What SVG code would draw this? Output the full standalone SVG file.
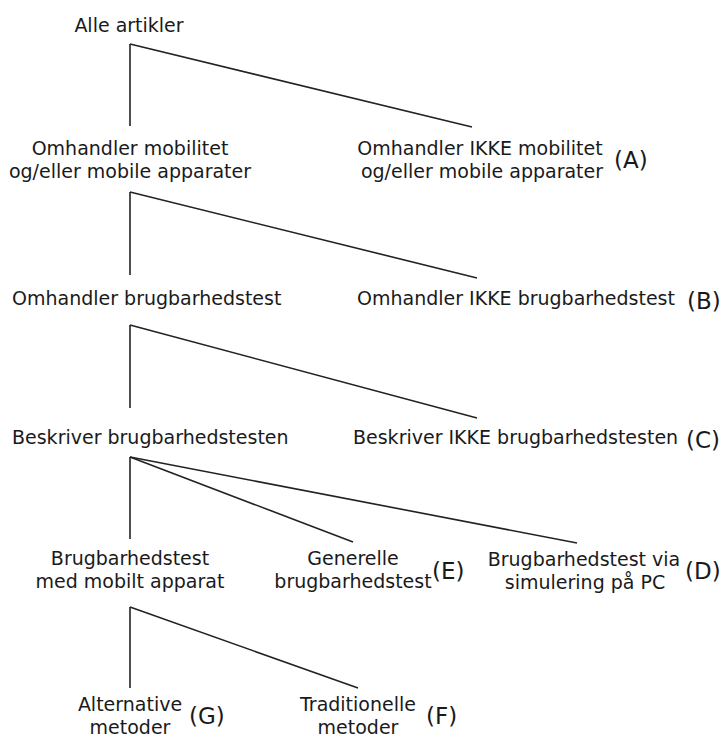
<svg xmlns="http://www.w3.org/2000/svg" width="726" height="738" viewBox="0 0 726 738">
<style>
text{font-family:"DejaVu Sans","Liberation Sans",sans-serif;font-size:19px;fill:#1a1a1a}
.c{text-anchor:middle}
.tag{font-size:23px}
#connectors line{stroke:#222;stroke-width:1.6;fill:none}
</style>
<rect width="726" height="738" fill="#fff"/>
<g id="connectors">
<line x1="130" y1="44" x2="130" y2="126"/>
<line x1="130" y1="44" x2="472" y2="127"/>
<line x1="130" y1="192" x2="130" y2="275"/>
<line x1="130" y1="192" x2="477" y2="278"/>
<line x1="130" y1="325" x2="130" y2="408"/>
<line x1="130" y1="325" x2="477" y2="418"/>
<line x1="130" y1="457" x2="130" y2="539"/>
<line x1="130" y1="457" x2="353" y2="542"/>
<line x1="130" y1="457" x2="577" y2="543"/>
<line x1="130" y1="607" x2="130" y2="688"/>
<line x1="130" y1="607" x2="358" y2="688"/>
</g>
<g id="n-root"><text class="c" x="129" y="32">Alle artikler</text></g>
<g id="n-mob"><text class="c" x="130" y="155">Omhandler mobilitet</text><text class="c" x="130" y="178">og/eller mobile apparater</text></g>
<g id="n-A"><text class="c" x="480" y="155">Omhandler IKKE mobilitet</text><text class="c" x="482" y="178">og/eller mobile apparater</text><text class="tag" x="614" y="168">(A)</text></g>
<g id="n-brug"><text x="12" y="305">Omhandler brugbarhedstest</text></g>
<g id="n-B"><text x="357" y="305">Omhandler IKKE brugbarhedstest</text><text class="tag" x="687" y="309">(B)</text></g>
<g id="n-besk"><text x="12" y="444">Beskriver brugbarhedstesten</text></g>
<g id="n-C"><text x="353" y="444">Beskriver IKKE brugbarhedstesten</text><text class="tag" x="686" y="448">(C)</text></g>
<g id="n-mobilt"><text class="c" x="130" y="565">Brugbarhedstest</text><text class="c" x="130" y="588">med mobilt apparat</text></g>
<g id="n-E"><text class="c" x="353" y="565">Generelle</text><text class="c" x="353" y="588">brugbarhedstest</text><text class="tag" x="432" y="579">(E)</text></g>
<g id="n-D"><text class="c" x="584" y="566">Brugbarhedstest via</text><text class="c" x="585" y="589">simulering på PC</text><text class="tag" x="685" y="579">(D)</text></g>
<g id="n-G"><text class="c" x="130" y="711">Alternative</text><text class="c" x="130" y="734">metoder</text><text class="tag" x="189" y="724">(G)</text></g>
<g id="n-F"><text class="c" x="358" y="711">Traditionelle</text><text class="c" x="358" y="734">metoder</text><text class="tag" x="426" y="724">(F)</text></g>
</svg>
